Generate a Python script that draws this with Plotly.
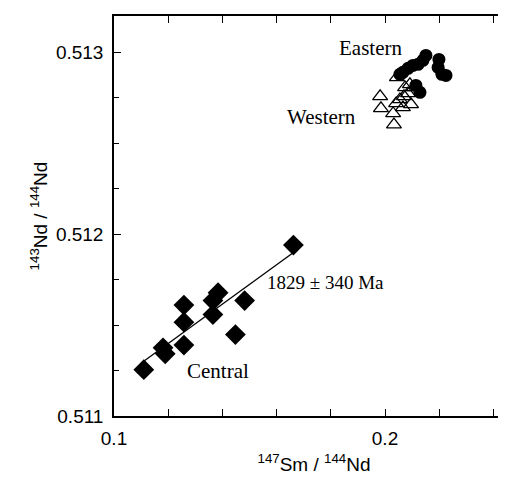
import plotly.graph_objects as go

# Central (filled diamonds)
central_x = [0.1110, 0.1181, 0.1189, 0.1258, 0.1258, 0.1258, 0.1365, 0.1384, 0.1365, 0.1448, 0.1482, 0.1662]
central_y = [0.511255, 0.511375, 0.511342, 0.511610, 0.511516, 0.511390, 0.511635, 0.511678, 0.511558, 0.511448, 0.511635, 0.511940]

# Isochron fit line endpoints
fit_x = [0.1111, 0.1661]
fit_y = [0.511303, 0.511898]

# Western (open triangles)
western_x = [0.2044, 0.2074, 0.2092, 0.2107, 0.2070, 0.2096, 0.2041, 0.2066, 0.1982, 0.1985, 0.2030, 0.2033, 0.2055, 0.2085]
western_y = [0.512862, 0.512807, 0.512824, 0.512807, 0.512758, 0.512714, 0.512719, 0.512697, 0.512758, 0.512692, 0.512664, 0.512603, 0.512741, 0.512774]

# Eastern (filled circles)
eastern_x = [0.2151, 0.2140, 0.2122, 0.2103, 0.2085, 0.2066, 0.2055, 0.2199, 0.2196, 0.2225, 0.2210, 0.2129, 0.2114]
eastern_y = [0.512983, 0.512956, 0.512934, 0.512928, 0.512912, 0.512890, 0.512879, 0.512961, 0.512917, 0.512873, 0.512879, 0.512780, 0.512818]

x_ticks = [0.1, 0.2]
x_tick_labels = ["0.1", "0.2"]
y_ticks = [0.511, 0.512, 0.513]
y_tick_labels = ["0.511", "0.512", "0.513"]

X_RANGE = [0.1, 0.2476]
Y_RANGE = [0.511, 0.51320]

fig = go.Figure()
fig.add_trace(go.Scatter(x=fit_x, y=fit_y, mode="lines", line=dict(color="black", width=1.3),
                         showlegend=False, hoverinfo="skip"))
fig.add_trace(go.Scatter(x=central_x, y=central_y, mode="markers",
                         marker=dict(symbol="diamond", size=16, color="black", line=dict(width=0)), showlegend=False))
fig.add_trace(go.Scatter(x=eastern_x, y=eastern_y, mode="markers",
                         marker=dict(symbol="circle", size=13, color="black", line=dict(width=0)), showlegend=False))
fig.add_trace(go.Scatter(x=western_x, y=western_y, mode="markers",
                         marker=dict(symbol="triangle-up-open", size=13, color="black", line=dict(width=1.3)),
                         showlegend=False))
# invisible trace to anchor the right-hand tick axis
fig.add_trace(go.Scatter(x=[X_RANGE[0]], y=[Y_RANGE[0]], yaxis="y2", mode="markers",
                         marker=dict(opacity=0), showlegend=False, hoverinfo="skip"))

annotations = [
    dict(text="Eastern", x=0.1948, y=0.513022, size=21),
    dict(text="Western", x=0.1764, y=0.512647, size=21),
    dict(text="1829 ± 340 Ma", x=0.1782, y=0.511733, size=19),
    dict(text="Central", x=0.1384, y=0.511248, size=21),
]
for a in annotations:
    fig.add_annotation(x=a["x"], y=a["y"], text=a["text"], showarrow=False,
                       font=dict(family="Liberation Serif", size=a["size"], color="black"),
                       xanchor="center", yanchor="middle")

tickfont = dict(family="Liberation Sans", size=19, color="black")
titlefont = dict(family="Liberation Sans", size=19, color="black")

fig.update_xaxes(range=X_RANGE, tickvals=x_ticks, ticktext=x_tick_labels,
                 showline=True, linecolor="black", linewidth=1.5, mirror="allticks",
                 ticks="inside", tickcolor="black", ticklen=7, tickwidth=1.2,
                 minor=dict(dtick=0.02, tick0=0.1, ticks="inside", ticklen=5, tickcolor="black", tickwidth=1),
                 showgrid=False, zeroline=False, tickfont=tickfont, ticklabelstandoff=4,
                 automargin=False,
                 title=dict(text="<sup>147</sup>Sm / <sup>144</sup>Nd", standoff=10, font=titlefont))
fig.update_layout(
    yaxis=dict(range=Y_RANGE, tickvals=y_ticks, ticktext=y_tick_labels,
               showline=True, linecolor="black", linewidth=1.5, mirror=False,
               ticks="inside", tickcolor="black", ticklen=7, tickwidth=1.2,
               minor=dict(dtick=0.00025, tick0=0.511, ticks="inside", ticklen=5, tickcolor="black", tickwidth=1),
               showgrid=False, zeroline=False, tickfont=tickfont, ticklabelstandoff=5,
               automargin=False,
               title=dict(text="<sup>143</sup>Nd / <sup>144</sup>Nd", standoff=3, font=titlefont)),
    yaxis2=dict(range=Y_RANGE, overlaying="y", side="right", showline=False,
                tickvals=y_ticks, showticklabels=False,
                ticks="inside", tickcolor="black", ticklen=7, tickwidth=1.2,
                minor=dict(dtick=0.00025, tick0=0.511, ticks="inside", ticklen=5, tickcolor="black", tickwidth=1),
                showgrid=False, zeroline=False, automargin=False),
    width=506, height=479, margin=dict(l=106, r=0, t=8, b=71),
    plot_bgcolor="white", paper_bgcolor="white", showlegend=False,
)

fig.write_html("out.html")
